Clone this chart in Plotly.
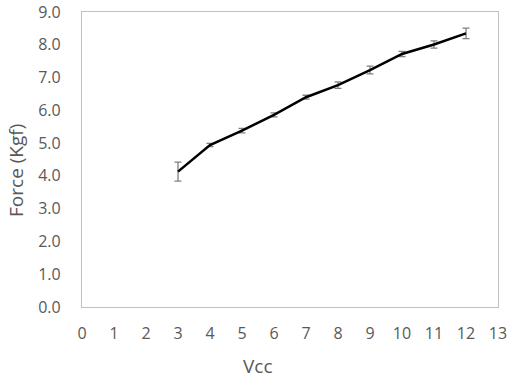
import plotly.graph_objects as go

vcc = [3, 4, 5, 6, 7, 8, 9, 10, 11, 12]
force = [4.13, 4.94, 5.38, 5.86, 6.40, 6.77, 7.23, 7.72, 8.01, 8.35]
err = [0.29, 0.05, 0.07, 0.06, 0.06, 0.10, 0.12, 0.08, 0.11, 0.16]

x_ticks = list(range(0, 14))
y_ticks = [i * 1.0 for i in range(0, 10)]

fig = go.Figure()
fig.add_trace(go.Scatter(
    x=vcc, y=force, mode="lines",
    line=dict(color="black", width=2.5),
    error_y=dict(type="data", array=err, visible=True, color="#808080", thickness=1.3, width=3.5),
    showlegend=False,
))

font_family = "'Open Sans', sans-serif"
axis_common = dict(
    showgrid=False, zeroline=False, showline=True, linecolor="#c0c0c0", linewidth=1.3,
    mirror=True, ticks="outside", tickcolor="rgba(0,0,0,0)", automargin=False,
)
fig.update_layout(
    width=510, height=379,
    margin=dict(l=82, r=12, t=12, b=72),
    paper_bgcolor="white", plot_bgcolor="white",
    font=dict(family=font_family, color="#595959", size=16),
    xaxis=dict(
        range=[0, 13], tickvals=x_ticks, ticktext=[str(v) for v in x_ticks],
        ticklen=12, **axis_common,
    ),
    yaxis=dict(
        range=[0, 9], tickvals=y_ticks, ticktext=[f"{v:.1f}" for v in y_ticks],
        ticklen=17, **axis_common,
    ),
    annotations=[
        dict(text="Vcc", xref="paper", yref="paper", x=0.423, y=-0.2, yanchor="middle",
             xanchor="center", showarrow=False, font=dict(size=19, color="#595959")),
        dict(text="Force (Kgf)", xref="paper", yref="paper", x=-0.159, y=0.464, textangle=-90,
             xanchor="center", yanchor="middle", showarrow=False, font=dict(size=19, color="#595959")),
    ],
)

fig.write_html("out.html", post_script="document.body.style.margin='0';",
               config={"displayModeBar": False})
